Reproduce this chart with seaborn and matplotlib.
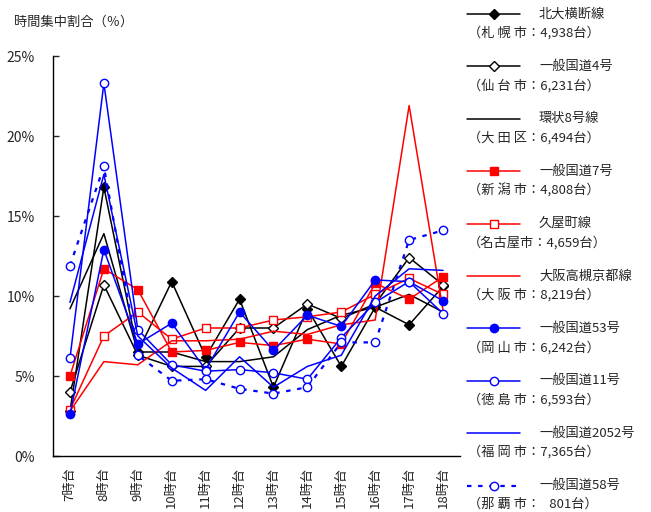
#!/usr/bin/env python

import matplotlib
matplotlib.use("Agg")
import matplotlib.pyplot as plt
import numpy as np
import pandas as pd
import seaborn as sns

hours = ["7時台", "8時台", "9時台", "10時台", "11時台", "12時台",
         "13時台", "14時台", "15時台", "16時台", "17時台", "18時台"]

road_names = ["北大横断線", "一般国道4号", "環状8号線", "一般国道7号", "久屋町線",
              "大阪高槻京都線", "一般国道53号", "一般国道11号", "一般国道2052号", "一般国道58号"]
road_places = ["（札 幌 市：4,938台）", "（仙 台 市：6,231台）", "（大 田 区：6,494台）",
               "（新 潟 市：4,808台）", "（名古屋市：4,659台）", "（大 阪 市：8,219台）",
               "（岡 山 市：6,242台）", "（徳 島 市：6,593台）", "（福 岡 市：7,365台）",
               "（那 覇 市：   801台）"]

sapporo = [2.8, 16.8, 6.5, 10.9, 6.2, 9.8, 4.3, 9.2, 5.6, 9.3, 8.2, 10.6]
sendai = [4.0, 10.7, 6.3, 5.6, 5.6, 8.0, 8.0, 9.5, 8.6, 9.5, 12.4, 10.7]
ota = [9.2, 13.9, 6.5, 6.5, 5.9, 5.9, 6.2, 7.9, 8.8, 9.3, 10.1, 9.0]
niigata = [5.0, 11.7, 10.4, 6.5, 6.6, 7.1, 6.9, 7.3, 7.0, 10.8, 9.8, 11.2]
nagoya = [2.9, 7.5, 9.0, 7.3, 8.0, 8.0, 8.5, 8.7, 9.0, 10.1, 11.1, 10.1]
osaka = [2.8, 5.9, 5.7, 7.2, 7.2, 7.3, 7.8, 7.6, 8.2, 8.5, 21.9, 9.1]
okayama = [2.6, 12.9, 7.0, 8.3, 5.4, 9.0, 6.6, 8.8, 8.1, 11.0, 10.9, 9.7]
tokushima = [6.1, 23.3, 7.9, 5.7, 5.3, 5.4, 5.2, 4.8, 7.4, 9.6, 10.9, 8.9]
fukuoka = [9.6, 17.6, 7.5, 5.5, 4.1, 6.2, 4.3, 5.6, 6.3, 10.0, 11.7, 11.6]
naha = [11.9, 18.1, 6.3, 4.7, 4.8, 4.2, 3.9, 4.3, 7.1, 7.1, 13.5, 14.1]

series = [sapporo, sendai, ota, niigata, nagoya, osaka, okayama, tokushima, fukuoka, naha]

# line style per road: color, marker, marker face, linestyle
styles = [
    dict(color="black", marker="D", mfc="black", ls="-"),
    dict(color="black", marker="D", mfc="white", ls="-"),
    dict(color="black", marker=None, mfc=None, ls="-"),
    dict(color="#ff0000", marker="s", mfc="#ff0000", ls="-"),
    dict(color="#ff0000", marker="s", mfc="white", ls="-"),
    dict(color="#ff0000", marker=None, mfc=None, ls="-"),
    dict(color="#0000ff", marker="o", mfc="#0000ff", ls="-"),
    dict(color="#0000ff", marker="o", mfc="white", ls="-"),
    dict(color="#0000ff", marker=None, mfc=None, ls="-"),
    dict(color="#0000ff", marker="o", mfc="white", ls=(0, (2, 3))),
]


def line_kws(st):
    kws = dict(color=st["color"], linestyle=st["ls"], linewidth=1.1)
    if st["marker"] is not None:
        kws.update(marker=st["marker"], markersize=6 if st["marker"] != "D" else 5.5,
                   markerfacecolor=st["mfc"], markeredgecolor=st["color"],
                   markeredgewidth=1.0)
    if st["ls"] != "-":
        kws["linewidth"] = 1.6
    return kws


def main():
    sns.set_style("white")
    plt.rcParams["font.family"] = ["Noto Sans CJK JP", "DejaVu Sans"]

    fig = plt.figure(figsize=(6.51, 5.12), dpi=100)
    ax = fig.add_axes([53 / 651, 1 - 456 / 512, 407 / 651, 400 / 512])

    x = np.arange(len(hours))
    for vals, st in zip(series, styles):
        df = pd.DataFrame({"x": x, "y": vals})
        sns.lineplot(data=df, x="x", y="y", ax=ax, **line_kws(st))

    ax.set_xlim(-0.5, len(hours) - 0.5)
    ax.set_ylim(0, 25)
    ax.set_yticks([0, 5, 10, 15, 20, 25])
    ax.set_yticklabels([f"{v}%" for v in [0, 5, 10, 15, 20, 25]], fontsize=10)
    ax.set_xticks(x)
    ax.set_xticklabels(hours, rotation=90, fontsize=9.5)
    ax.set_xticks(np.arange(len(hours) + 1) - 0.5, minor=True)
    ax.tick_params(axis="x", which="major", length=0, pad=8)
    ax.tick_params(axis="x", which="minor", direction="in", length=4, width=1)
    ax.tick_params(axis="y", direction="in", length=4, width=1, pad=13, left=True)
    ax.set_xlabel("")
    ax.set_ylabel("")
    for side in ["top", "right"]:
        ax.spines[side].set_visible(False)
    for side in ["left", "bottom"]:
        ax.spines[side].set_color("black")
        ax.spines[side].set_linewidth(1)

    fig.text(14 / 651, 1 - 22 / 512, "時間集中割合（％）", fontsize=9.5, va="center")

    # legend drawn by hand at the right
    lg = fig.add_axes([460 / 651, 0, 191 / 651, 1])
    lg.set_xlim(460, 651)
    lg.set_ylim(512, 0)
    lg.axis("off")
    for i, (name, place, st) in enumerate(zip(road_names, road_places, styles)):
        yy = 14 + i * 52.4
        kws = line_kws(st)
        lg.plot([467, 520], [yy, yy], **{k: v for k, v in kws.items()
                                         if not k.startswith("marker")})
        if st["marker"] is not None:
            lg.plot([493.5], [yy], linestyle="none", **{k: v for k, v in kws.items()
                                                         if k.startswith("marker")})
        lg.text(539, yy, name, fontsize=9.5, va="center")
        lg.text(468, yy + 19, place, fontsize=9.5, va="center")

    fig.savefig("out.png", dpi=100)


if __name__ == "__main__":
    main()
